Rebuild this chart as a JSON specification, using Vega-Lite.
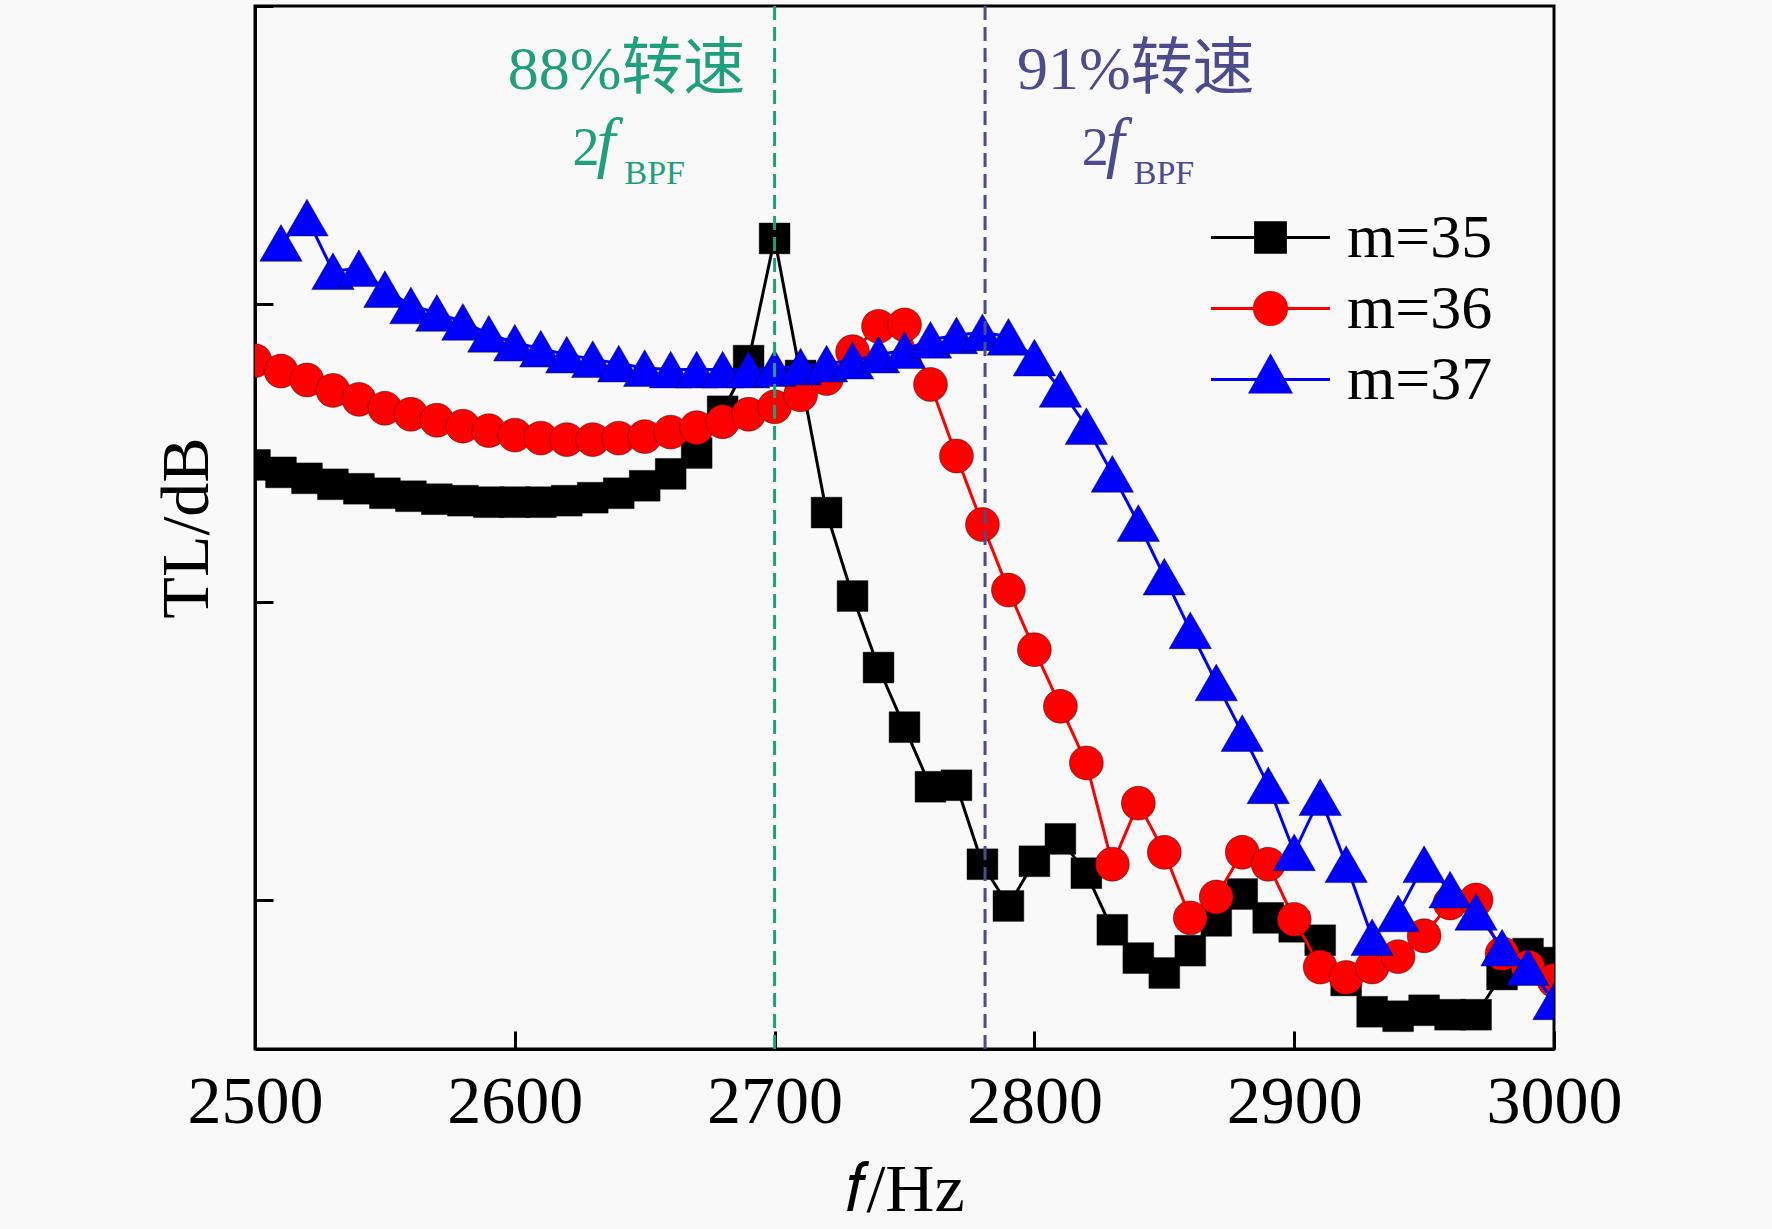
{
  "$schema": "https://vega.github.io/schema/vega-lite/v6.json",
  "width": 1299,
  "height": 1043,
  "autosize": "none",
  "padding": {"left": 255, "top": 6, "right": 218, "bottom": 180},
  "background": "#f9f9f9",
  "config": {
    "view": {"stroke": "black", "strokeWidth": 3},
    "font": "Liberation Serif",
    "legend": {"labelFont": "Liberation Serif", "labelFontSize": 62, "labelColor": "black"}
  },
  "datasets": {
    "curves": [
      {"series": "m=35", "f": 2500, "TL": 19.6}, {"series": "m=35", "f": 2510, "TL": 19.35},
      {"series": "m=35", "f": 2520, "TL": 19.15}, {"series": "m=35", "f": 2530, "TL": 18.95},
      {"series": "m=35", "f": 2540, "TL": 18.8}, {"series": "m=35", "f": 2550, "TL": 18.65},
      {"series": "m=35", "f": 2560, "TL": 18.55}, {"series": "m=35", "f": 2570, "TL": 18.45},
      {"series": "m=35", "f": 2580, "TL": 18.4}, {"series": "m=35", "f": 2590, "TL": 18.35},
      {"series": "m=35", "f": 2600, "TL": 18.35}, {"series": "m=35", "f": 2610, "TL": 18.35},
      {"series": "m=35", "f": 2620, "TL": 18.4}, {"series": "m=35", "f": 2630, "TL": 18.5},
      {"series": "m=35", "f": 2640, "TL": 18.65}, {"series": "m=35", "f": 2650, "TL": 18.9},
      {"series": "m=35", "f": 2660, "TL": 19.3}, {"series": "m=35", "f": 2670, "TL": 20.0},
      {"series": "m=35", "f": 2680, "TL": 21.4}, {"series": "m=35", "f": 2690, "TL": 23.1},
      {"series": "m=35", "f": 2700, "TL": 27.2}, {"series": "m=35", "f": 2710, "TL": 22.6},
      {"series": "m=35", "f": 2720, "TL": 18.0}, {"series": "m=35", "f": 2730, "TL": 15.2},
      {"series": "m=35", "f": 2740, "TL": 12.8}, {"series": "m=35", "f": 2750, "TL": 10.8},
      {"series": "m=35", "f": 2760, "TL": 8.8}, {"series": "m=35", "f": 2770, "TL": 8.85},
      {"series": "m=35", "f": 2780, "TL": 6.2}, {"series": "m=35", "f": 2790, "TL": 4.8},
      {"series": "m=35", "f": 2800, "TL": 6.3}, {"series": "m=35", "f": 2810, "TL": 7.05},
      {"series": "m=35", "f": 2820, "TL": 5.9}, {"series": "m=35", "f": 2830, "TL": 4.0},
      {"series": "m=35", "f": 2840, "TL": 3.05}, {"series": "m=35", "f": 2850, "TL": 2.55},
      {"series": "m=35", "f": 2860, "TL": 3.3}, {"series": "m=35", "f": 2870, "TL": 4.3},
      {"series": "m=35", "f": 2880, "TL": 5.2}, {"series": "m=35", "f": 2890, "TL": 4.4},
      {"series": "m=35", "f": 2900, "TL": 4.1}, {"series": "m=35", "f": 2910, "TL": 3.65},
      {"series": "m=35", "f": 2920, "TL": 2.3}, {"series": "m=35", "f": 2930, "TL": 1.25},
      {"series": "m=35", "f": 2940, "TL": 1.1}, {"series": "m=35", "f": 2950, "TL": 1.3},
      {"series": "m=35", "f": 2960, "TL": 1.15}, {"series": "m=35", "f": 2970, "TL": 1.15},
      {"series": "m=35", "f": 2980, "TL": 2.5}, {"series": "m=35", "f": 2990, "TL": 3.2},
      {"series": "m=35", "f": 3000, "TL": 2.9},

      {"series": "m=36", "f": 2500, "TL": 23.1}, {"series": "m=36", "f": 2510, "TL": 22.75},
      {"series": "m=36", "f": 2520, "TL": 22.45}, {"series": "m=36", "f": 2530, "TL": 22.1},
      {"series": "m=36", "f": 2540, "TL": 21.8}, {"series": "m=36", "f": 2550, "TL": 21.5},
      {"series": "m=36", "f": 2560, "TL": 21.3}, {"series": "m=36", "f": 2570, "TL": 21.1},
      {"series": "m=36", "f": 2580, "TL": 20.9}, {"series": "m=36", "f": 2590, "TL": 20.75},
      {"series": "m=36", "f": 2600, "TL": 20.6}, {"series": "m=36", "f": 2610, "TL": 20.5},
      {"series": "m=36", "f": 2620, "TL": 20.45}, {"series": "m=36", "f": 2630, "TL": 20.45},
      {"series": "m=36", "f": 2640, "TL": 20.5}, {"series": "m=36", "f": 2650, "TL": 20.55},
      {"series": "m=36", "f": 2660, "TL": 20.7}, {"series": "m=36", "f": 2670, "TL": 20.85},
      {"series": "m=36", "f": 2680, "TL": 21.05}, {"series": "m=36", "f": 2690, "TL": 21.3},
      {"series": "m=36", "f": 2700, "TL": 21.55}, {"series": "m=36", "f": 2710, "TL": 21.95},
      {"series": "m=36", "f": 2720, "TL": 22.5}, {"series": "m=36", "f": 2730, "TL": 23.4},
      {"series": "m=36", "f": 2740, "TL": 24.25}, {"series": "m=36", "f": 2750, "TL": 24.3},
      {"series": "m=36", "f": 2760, "TL": 22.3}, {"series": "m=36", "f": 2770, "TL": 19.9},
      {"series": "m=36", "f": 2780, "TL": 17.6}, {"series": "m=36", "f": 2790, "TL": 15.4},
      {"series": "m=36", "f": 2800, "TL": 13.4}, {"series": "m=36", "f": 2810, "TL": 11.5},
      {"series": "m=36", "f": 2820, "TL": 9.6}, {"series": "m=36", "f": 2830, "TL": 6.2},
      {"series": "m=36", "f": 2840, "TL": 8.25}, {"series": "m=36", "f": 2850, "TL": 6.6},
      {"series": "m=36", "f": 2860, "TL": 4.4}, {"series": "m=36", "f": 2870, "TL": 5.1},
      {"series": "m=36", "f": 2880, "TL": 6.6}, {"series": "m=36", "f": 2890, "TL": 6.2},
      {"series": "m=36", "f": 2900, "TL": 4.35}, {"series": "m=36", "f": 2910, "TL": 2.75},
      {"series": "m=36", "f": 2920, "TL": 2.4}, {"series": "m=36", "f": 2930, "TL": 2.75},
      {"series": "m=36", "f": 2940, "TL": 3.1}, {"series": "m=36", "f": 2950, "TL": 3.8},
      {"series": "m=36", "f": 2960, "TL": 4.9}, {"series": "m=36", "f": 2970, "TL": 5.0},
      {"series": "m=36", "f": 2980, "TL": 3.2}, {"series": "m=36", "f": 2990, "TL": 2.75},
      {"series": "m=36", "f": 3000, "TL": 2.3},

      {"series": "m=37", "f": 2510, "TL": 27.05}, {"series": "m=37", "f": 2520, "TL": 27.9},
      {"series": "m=37", "f": 2530, "TL": 26.1}, {"series": "m=37", "f": 2540, "TL": 26.2},
      {"series": "m=37", "f": 2550, "TL": 25.5}, {"series": "m=37", "f": 2560, "TL": 24.95},
      {"series": "m=37", "f": 2570, "TL": 24.7}, {"series": "m=37", "f": 2580, "TL": 24.4},
      {"series": "m=37", "f": 2590, "TL": 24.0}, {"series": "m=37", "f": 2600, "TL": 23.7},
      {"series": "m=37", "f": 2610, "TL": 23.5}, {"series": "m=37", "f": 2620, "TL": 23.3},
      {"series": "m=37", "f": 2630, "TL": 23.15}, {"series": "m=37", "f": 2640, "TL": 23.0},
      {"series": "m=37", "f": 2650, "TL": 22.85}, {"series": "m=37", "f": 2660, "TL": 22.8},
      {"series": "m=37", "f": 2670, "TL": 22.8}, {"series": "m=37", "f": 2680, "TL": 22.8},
      {"series": "m=37", "f": 2690, "TL": 22.8}, {"series": "m=37", "f": 2700, "TL": 22.85},
      {"series": "m=37", "f": 2710, "TL": 22.9}, {"series": "m=37", "f": 2720, "TL": 23.0},
      {"series": "m=37", "f": 2730, "TL": 23.1}, {"series": "m=37", "f": 2740, "TL": 23.3},
      {"series": "m=37", "f": 2750, "TL": 23.45}, {"series": "m=37", "f": 2760, "TL": 23.8},
      {"series": "m=37", "f": 2770, "TL": 23.95}, {"series": "m=37", "f": 2780, "TL": 24.05},
      {"series": "m=37", "f": 2790, "TL": 23.9}, {"series": "m=37", "f": 2800, "TL": 23.2},
      {"series": "m=37", "f": 2810, "TL": 22.15}, {"series": "m=37", "f": 2820, "TL": 20.9},
      {"series": "m=37", "f": 2830, "TL": 19.3}, {"series": "m=37", "f": 2840, "TL": 17.65},
      {"series": "m=37", "f": 2850, "TL": 15.85}, {"series": "m=37", "f": 2860, "TL": 14.05},
      {"series": "m=37", "f": 2870, "TL": 12.3}, {"series": "m=37", "f": 2880, "TL": 10.6},
      {"series": "m=37", "f": 2890, "TL": 8.85}, {"series": "m=37", "f": 2900, "TL": 6.6},
      {"series": "m=37", "f": 2910, "TL": 8.45}, {"series": "m=37", "f": 2920, "TL": 6.2},
      {"series": "m=37", "f": 2930, "TL": 3.75}, {"series": "m=37", "f": 2940, "TL": 4.55},
      {"series": "m=37", "f": 2950, "TL": 6.2}, {"series": "m=37", "f": 2960, "TL": 5.35},
      {"series": "m=37", "f": 2970, "TL": 4.6}, {"series": "m=37", "f": 2980, "TL": 3.4},
      {"series": "m=37", "f": 2990, "TL": 2.75}, {"series": "m=37", "f": 3000, "TL": 1.6}
    ],
    "guides": [
      {"speed": "88%", "f": 2700, "TL": 0, "TL_end": 35},
      {"speed": "91%", "f": 2781, "TL": 0, "TL_end": 35}
    ],
    "notes": [
      {"speed": "88%", "label": "88%转速", "f": 2643, "TL": 32.2},
      {"speed": "91%", "label": "91%转速", "f": 2839, "TL": 32.2}
    ],
    "subs": [
      {"speed": "88%", "f": 2643, "TL": 29.66},
      {"speed": "91%", "f": 2839, "TL": 29.66}
    ]
  },
  "encoding": {
    "x": {
      "field": "f", "type": "quantitative",
      "scale": {"domain": [2500, 3000], "nice": false, "zero": false},
      "axis": {
        "title": "𝑓/Hz", "values": [2500, 2600, 2700, 2800, 2900, 3000], "format": "d",
        "labelFontSize": 68, "labelFont": "Liberation Serif", "labelColor": "black",
        "labelPadding": 37, "labelFlush": false,
        "tickSize": -18, "tickWidth": 3, "tickColor": "black",
        "domainColor": "black", "domainWidth": 3, "grid": false,
        "titleFontSize": 68, "titleFont": "Liberation Serif", "titleFontWeight": "normal",
        "titleColor": "black", "titlePadding": 20
      }
    },
    "y": {
      "field": "TL", "type": "quantitative",
      "scale": {"domain": [0, 35], "nice": false, "zero": false},
      "axis": {
        "title": "TL/dB", "values": [5, 15, 25, 35], "labels": false,
        "tickSize": -18, "tickWidth": 3, "tickColor": "black",
        "domainColor": "black", "domainWidth": 3, "grid": false,
        "titleFontSize": 68, "titleFont": "Liberation Serif", "titleFontWeight": "normal",
        "titleColor": "black", "titlePadding": 32
      }
    }
  },
  "layer": [
    {
      "data": {"name": "curves"},
      "transform": [{"filter": "datum.series === 'm=35'"}],
      "mark": {
        "type": "line", "clip": true, "strokeWidth": 3, "color": "#000000",
        "point": {"shape": "square", "size": 950, "filled": true, "clip": true, "color": "#000000", "opacity": 1, "stroke": "#000000", "strokeWidth": 1, "strokeOpacity": 0.4}
      }
    },
    {
      "data": {"name": "curves"},
      "transform": [{"filter": "datum.series === 'm=36'"}],
      "mark": {
        "type": "line", "clip": true, "strokeWidth": 3, "color": "#ff0000",
        "point": {"shape": "circle", "size": 1150, "filled": true, "clip": true, "color": "#ff0000", "opacity": 1, "stroke": "#000000", "strokeWidth": 1, "strokeOpacity": 0.4}
      }
    },
    {
      "data": {"name": "curves"},
      "transform": [{"filter": "datum.series === 'm=37'"}],
      "mark": {
        "type": "line", "clip": true, "strokeWidth": 3, "color": "#0000ff",
        "point": {"shape": "triangle-up", "size": 1800, "filled": true, "clip": true, "color": "#0000ff", "opacity": 1, "stroke": "#000000", "strokeWidth": 1, "strokeOpacity": 0.4}
      }
    },
    {
      "data": {"name": "curves"},
      "transform": [{"filter": "false"}],
      "mark": {"type": "point", "filled": true, "strokeWidth": 3, "opacity": 1},
      "encoding": {
        "shape": {
          "field": "series", "type": "nominal",
          "scale": {
            "domain": ["m=35", "m=36", "m=37"],
            "range": [
              "M-2,0H2M-0.5,-0.5H0.5V0.5H-0.5Z",
              "M-2,0H2M-0.54,0A0.54,0.54,0,1,0,0.54,0A0.54,0.54,0,1,0,-0.54,0Z",
              "M-2,0H2M-0.67,0.42L0.67,0.42L0,-0.78Z"
            ]
          },
          "legend": {
            "title": null, "orient": "none", "legendX": 984, "legendY": 200,
            "padding": 0, "symbolSize": 3540, "symbolStrokeWidth": 3, "symbolOpacity": 1,
            "labelOffset": 45, "rowPadding": 8,
            "labelFontSize": 62, "labelFont": "Liberation Serif", "labelColor": "black",
            "labelLimit": 400, "labelBaseline": "middle"
          }
        },
        "fill": {
          "field": "series", "type": "nominal",
          "scale": {"domain": ["m=35", "m=36", "m=37"], "range": ["#000000", "#ff0000", "#0000ff"]},
          "legend": {
            "title": null, "orient": "none", "legendX": 984, "legendY": 200,
            "padding": 0, "symbolSize": 3540, "symbolStrokeWidth": 3, "symbolOpacity": 1,
            "labelOffset": 45, "rowPadding": 8,
            "labelFontSize": 62, "labelFont": "Liberation Serif", "labelColor": "black",
            "labelLimit": 400, "labelBaseline": "middle"
          }
        },
        "stroke": {
          "field": "series", "type": "nominal",
          "scale": {"domain": ["m=35", "m=36", "m=37"], "range": ["#000000", "#ff0000", "#0000ff"]},
          "legend": {
            "title": null, "orient": "none", "legendX": 984, "legendY": 200,
            "padding": 0, "symbolSize": 3540, "symbolStrokeWidth": 3, "symbolOpacity": 1,
            "labelOffset": 45, "rowPadding": 8,
            "labelFontSize": 62, "labelFont": "Liberation Serif", "labelColor": "black",
            "labelLimit": 400, "labelBaseline": "middle"
          }
        }
      }
    },
    {
      "data": {"name": "guides"},
      "mark": {
        "type": "rule", "strokeWidth": 3, "strokeDash": [14, 7],
        "stroke": {"expr": "datum.speed === '88%' ? '#1f9f7c' : '#4b4b8d'"}
      },
      "encoding": {
        "y2": {"field": "TL_end"}
      }
    },
    {
      "data": {"name": "notes"},
      "mark": {
        "type": "text", "fontSize": 62, "baseline": "alphabetic", "align": "center",
        "font": "Liberation Serif, Noto Sans CJK SC",
        "fill": {"expr": "datum.speed === '88%' ? '#1f9f7c' : '#4b4b8d'"}
      },
      "encoding": {
        "text": {"field": "label"}
      }
    },
    {
      "data": {"name": "subs"},
      "mark": {
        "type": "text", "text": "2", "fontSize": 54, "baseline": "alphabetic", "align": "left", "dx": -54,
        "fill": {"expr": "datum.speed === '88%' ? '#1f9f7c' : '#4b4b8d'"}
      }
    },
    {
      "data": {"name": "subs"},
      "mark": {
        "type": "text", "text": "f", "fontSize": 68, "fontStyle": "italic", "baseline": "alphabetic", "align": "left", "dx": -30,
        "fill": {"expr": "datum.speed === '88%' ? '#1f9f7c' : '#4b4b8d'"}
      }
    },
    {
      "data": {"name": "subs"},
      "mark": {
        "type": "text", "text": "BPF", "fontSize": 34, "baseline": "alphabetic", "align": "left", "dx": -2, "dy": 19,
        "fill": {"expr": "datum.speed === '88%' ? '#1f9f7c' : '#4b4b8d'"}
      }
    }
  ]
}
